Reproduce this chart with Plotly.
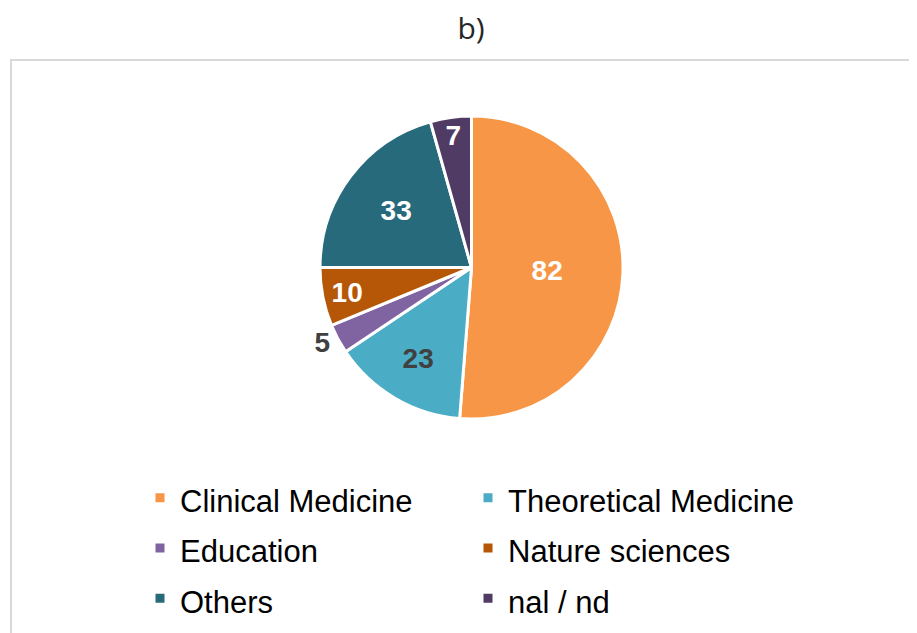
import plotly.graph_objects as go

categories = ["Clinical Medicine", "Theoretical Medicine", "Education",
              "Nature sciences", "Others", "nal / nd"]
values = [82, 23, 5, 10, 33, 7]
colors = ["#F79646", "#4BACC6", "#8064A2", "#B65708", "#276A7C", "#4F3B63"]
label_colors = ["#FFFFFF", "#404040", "#404040", "#FFFFFF", "#FFFFFF", "#FFFFFF"]
label_pos = ["inside", "inside", "outside", "inside", "inside", "inside"]

W, H = 917, 633
off = 8  # page body margin
cx, cy, r = 471.5 - off, 267.5 - off, 151.5

legend_labels = ["<span style='font-size:31px'>%s</span>" % c for c in categories]

fig = go.Figure(go.Pie(
    labels=legend_labels,
    values=values,
    sort=False,
    direction="clockwise",
    rotation=0,
    marker=dict(colors=colors, line=dict(color="#FFFFFF", width=3)),
    textinfo="value",
    textposition=label_pos,
    insidetextorientation="horizontal",
    textfont=dict(family="Liberation Sans, Arial", size=28, color=label_colors,
                  weight="bold"),
    outsidetextfont=dict(family="Liberation Sans, Arial", size=28, color="#404040",
                         weight="bold"),
    domain=dict(x=[(cx - r) / W, (cx + r) / W], y=[1 - (cy + r) / H, 1 - (cy - r) / H]),
))

fig.update_layout(
    width=W, height=H,
    margin=dict(l=0, r=0, t=0, b=0),
    paper_bgcolor="#FFFFFF",
    title=dict(text="b)", x=(471 - off) / W, xanchor="center", y=1 - (28 - off) / H,
               yanchor="middle",
               font=dict(family="Open Sans, Liberation Sans", size=30, color="#262626")),
    showlegend=True,
    legend=dict(orientation="h", x=132 / W, xanchor="left", y=1 - 459.5 / H, yanchor="top",
                entrywidth=283, entrywidthmode="pixels",
                font=dict(family="Liberation Sans, Arial", size=36.4, color="#000000"),
                bgcolor="rgba(0,0,0,0)"),
    shapes=[dict(type="rect", xref="paper", yref="paper",
                 x0=(11 - off) / W, x1=1.05, y0=-0.05, y1=1 - (60 - off) / H,
                 line=dict(color="#D9D9D9", width=2), fillcolor="rgba(0,0,0,0)",
                 layer="below")],
)

fig.write_html("out.html")
